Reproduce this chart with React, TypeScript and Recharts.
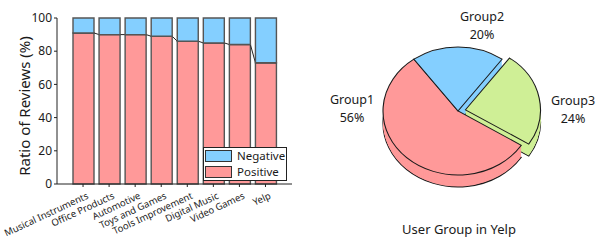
import React from 'react';
import { BarChart, Bar, XAxis, YAxis, Label, PieChart, Pie, Cell } from 'recharts';

// ---------- data ----------
const categories = [
  'Musical Instruments',
  'Office Products',
  'Automotive',
  'Toys and Games',
  'Tools Improvement',
  'Digital Music',
  'Video Games',
  'Yelp',
];
const positive = [91, 90, 90, 89, 86, 85, 84, 73];
const negative = [9, 10, 10, 11, 14, 15, 16, 27];
const yTicks = [0, 20, 40, 60, 80, 100];
const seriesNames = ['Positive', 'Negative'];

const groupNames = ['Group1', 'Group2', 'Group3'];
const groupShares = [56, 20, 24];
const explodedGroup = 2;

// ---------- style ----------
const FONT = '"Noto Sans", "Open Sans", sans-serif';
const PINK = '#FF9999';
const BLUE = '#84CFFF';
const GREEN = '#CFEF96';
const pieColors = [PINK, BLUE, GREEN];
const TEXT = '#1a1a1a';
const BAR_STROKE = '#555555';

const BAR_W = 300;
const BAR_H = 241;
const MARGIN = { top: 18, right: 8, bottom: 0, left: 0 };
const Y_AXIS_W = 57;
const X_AXIS_H = 57;
const PAD = { left: 13, right: 13.5 };
const PLOT_W = BAR_W - MARGIN.left - MARGIN.right - Y_AXIS_W;
const BAND = (PLOT_W - PAD.left - PAD.right) / categories.length;

const barData = categories.map((c, i) => ({ name: c, Positive: positive[i], Negative: negative[i] }));

const PositiveShape = (props: any) => {
  const { x, y, width, height, index, fill } = props;
  const v = positive[index];
  const next = positive[index + 1];
  const k = height / v;
  return (
    <g>
      <rect x={x} y={y} width={width} height={height} fill={fill} stroke={BAR_STROKE} strokeWidth={1.4} />
      <line x1={x} y1={y} x2={x + width} y2={y} stroke="#222" strokeWidth={1} />
      {next !== undefined && (
        <line x1={x + width} y1={y} x2={x + BAND} y2={y + (v - next) * k} stroke="#222" strokeWidth={1} />
      )}
    </g>
  );
};

const XTick = (props: any) => {
  const { x, y, payload } = props;
  const tx = x + 6;
  const ty = y + 9;
  return (
    <text
      x={tx}
      y={ty}
      transform={`rotate(-25 ${tx} ${ty})`}
      textAnchor="end"
      fontSize={9.5}
      fontFamily={FONT}
      fill={TEXT}
    >
      {payload.value}
    </text>
  );
};

const YLabel = (props: any) => {
  const vb = props.viewBox || { x: 0, y: 0, width: 0, height: 0 };
  const cx = 23.5;
  const cy = vb.y + vb.height / 2 + 5;
  return (
    <text
      x={cx}
      y={cy}
      transform={`rotate(-90 ${cx} ${cy})`}
      textAnchor="middle"
      dominantBaseline="central"
      fontSize={15}
      fontFamily={FONT}
      fill={TEXT}
    >
      Ratio of Reviews (%)
    </text>
  );
};

// ---------- pie geometry ----------
const SY = 64 / 75;
const PIE_LEFT = 300;
const CX = 158;
const CY = 111 / SY;
const R = 75;
const DEPTH = 12 / SY;
const LAYER_STEP = 1.1;
const START = -32.4;
const EXPLODE = 7.6;

const total = groupShares.reduce((a, b) => a + b, 0);
const cumBefore = groupShares.slice(0, explodedGroup).reduce((a, b) => a + b, 0);
const midAngle = START - ((cumBefore + groupShares[explodedGroup] / 2) / total) * 360;
const EX_DX = EXPLODE * Math.cos((midAngle * Math.PI) / 180);
const EX_DY = -EXPLODE * Math.sin((midAngle * Math.PI) / 180);

const pieData = groupNames.map((g, i) => ({ name: g, value: groupShares[i] }));

const layerOffsets: number[] = [];
for (let d = DEPTH; d > 0.01; d -= LAYER_STEP) layerOffsets.push(d);
layerOffsets.push(0);

const LABEL_POS = [
  { dx: -106, dy: -3 },
  { dx: 24, dy: -86 },
  { dx: 115, dy: -2 },
];

const renderPieLabel = (p: any) => {
  const i = p.index;
  const o = LABEL_POS[i];
  const x = CX + o.dx;
  const y = CY + o.dy / SY;
  return (
    <g key={`lab-${i}`} transform={`translate(${x} ${y}) scale(1 ${1 / SY})`}>
      <text x={0} y={-9} textAnchor="middle" dominantBaseline="central" fontSize={12.5} fontFamily={FONT} fill={TEXT}>
        {groupNames[i]}
      </text>
      <text x={0} y={9} textAnchor="middle" dominantBaseline="central" fontSize={12.5} fontFamily={FONT} fill={TEXT}>
        {groupShares[i]}%
      </text>
    </g>
  );
};

const LegendBox = () => {
  const items = [
    { name: seriesNames[1], color: BLUE },
    { name: seriesNames[0], color: PINK },
  ];
  return (
    <div
      style={{
        position: 'absolute',
        left: 203,
        top: 147,
        width: 82,
        height: 32,
        border: '1px solid #222',
        background: '#fff',
        fontFamily: FONT,
        fontSize: 11.5,
        color: TEXT,
      }}
    >
      {items.map((it, i) => (
        <div key={it.name} style={{ position: 'absolute', left: 1, top: 1 + i * 15.5, height: 14, display: 'flex', alignItems: 'center' }}>
          <div style={{ width: 27, height: 12, background: it.color, border: '1px solid #333', boxSizing: 'border-box' as any }} />
          <span style={{ marginLeft: 5, lineHeight: '14px' }}>{it.name}</span>
        </div>
      ))}
    </div>
  );
};

export default function App() {
  return (
    <div style={{ position: 'absolute', left: 0, top: 0, width: 597, height: 241, background: '#fff', overflow: 'hidden' }}>
      <div style={{ position: 'absolute', left: 0, top: 0 }}>
        <BarChart width={BAR_W} height={BAR_H} data={barData} margin={MARGIN} barSize={21}>
          <XAxis
            dataKey="name"
            interval={0}
            height={X_AXIS_H}
            padding={PAD}
            tick={<XTick />}
            tickSize={3}
            axisLine={{ stroke: '#222' }}
            tickLine={{ stroke: '#222' }}
          />
          <XAxis
            xAxisId="top"
            orientation="top"
            dataKey="name"
            height={0}
            padding={PAD}
            tick={false}
            tickLine={false}
            axisLine={{ stroke: '#9a9a9a' }}
          />
          <YAxis
            domain={[0, 100]}
            ticks={yTicks}
            width={Y_AXIS_W}
            tickSize={3}
            tick={{ fontSize: 12, fontFamily: FONT, fill: TEXT }}
            axisLine={{ stroke: '#222' }}
            tickLine={{ stroke: '#222' }}
          >
            <Label content={<YLabel />} />
          </YAxis>
          <YAxis
            yAxisId="right"
            orientation="right"
            domain={[0, 100]}
            width={0}
            tick={false}
            tickLine={false}
            axisLine={{ stroke: '#9a9a9a' }}
          />
          <Bar dataKey="Positive" stackId="a" fill={PINK} shape={<PositiveShape />} isAnimationActive={false} />
          <Bar dataKey="Negative" stackId="a" fill={BLUE} stroke={BAR_STROKE} strokeWidth={1.4} isAnimationActive={false} />
        </BarChart>
      </div>
      <LegendBox />

      <div
        style={{
          position: 'absolute',
          left: PIE_LEFT,
          top: 0,
          width: 297,
          height: 241 / SY,
          transform: `scaleY(${SY})`,
          transformOrigin: 'top left',
        }}
      >
        <PieChart width={297} height={Math.round(241 / SY)} margin={{ top: 0, right: 0, bottom: 0, left: 0 }}>
          {layerOffsets.map((off, li) => {
            const isBottom = li === 0;
            const isTop = off === 0;
            const stroke = isBottom || isTop ? '#1a1a1a' : 'none';
            return [
              <Pie
                key={`m-${li}`}
                data={pieData}
                dataKey="value"
                cx={CX}
                cy={CY + off}
                outerRadius={R}
                startAngle={START}
                endAngle={START - 360}
                isAnimationActive={false}
                labelLine={false}
                label={isTop ? renderPieLabel : false}
                stroke="none"
              >
                {pieData.map((d, i) => (
                  <Cell
                    key={d.name}
                    fill={i === explodedGroup ? 'none' : pieColors[i]}
                    stroke={i === explodedGroup ? 'none' : stroke}
                    strokeWidth={1.1}
                  />
                ))}
              </Pie>,
              <Pie
                key={`e-${li}`}
                data={pieData}
                dataKey="value"
                cx={CX + EX_DX}
                cy={CY + EX_DY + off}
                outerRadius={R}
                startAngle={START}
                endAngle={START - 360}
                isAnimationActive={false}
                labelLine={false}
                label={false}
                stroke="none"
              >
                {pieData.map((d, i) => (
                  <Cell
                    key={d.name}
                    fill={i === explodedGroup ? pieColors[i] : 'none'}
                    stroke={i === explodedGroup ? stroke : 'none'}
                    strokeWidth={1.1}
                  />
                ))}
              </Pie>,
            ];
          })}
        </PieChart>
      </div>
      <div
        style={{
          position: 'absolute',
          left: 359,
          width: 200,
          top: 220,
          textAlign: 'center',
          fontFamily: FONT,
          fontSize: 13,
          lineHeight: '18px',
          color: TEXT,
        }}
      >
        User Group in Yelp
      </div>
    </div>
  );
}
